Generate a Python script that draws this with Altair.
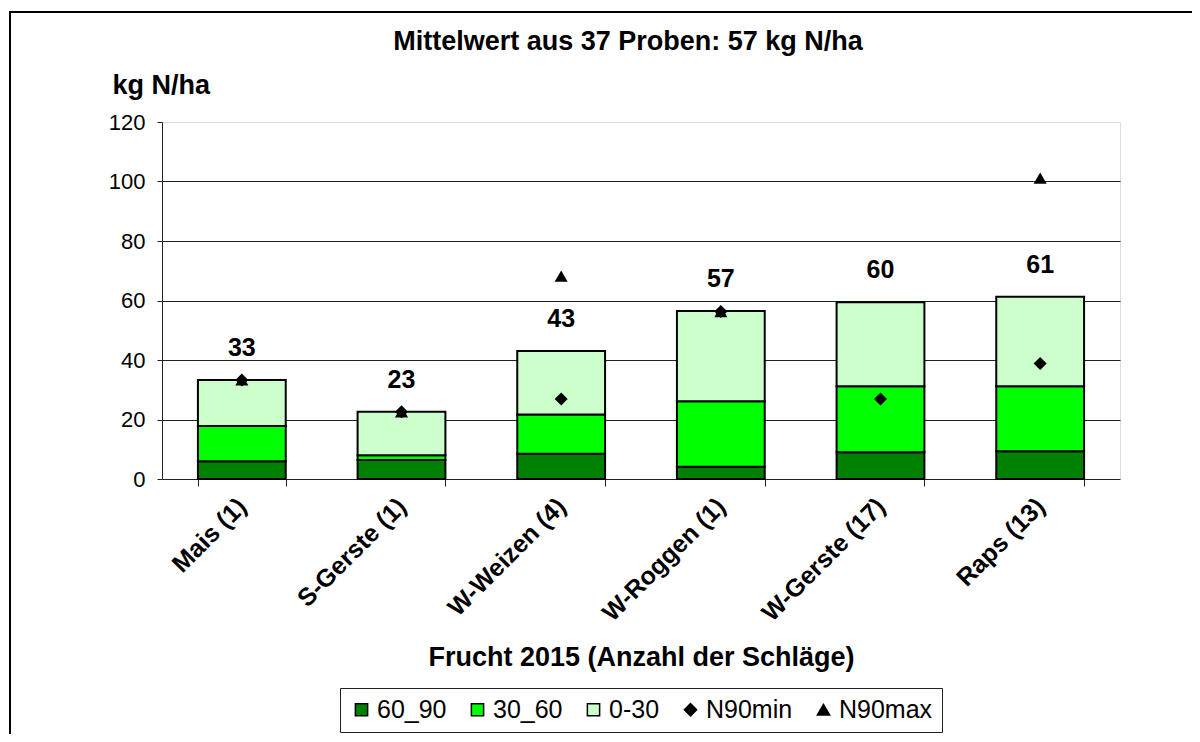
import altair as alt
import pandas as pd

categories = ["Mais (1)", "S-Gerste (1)", "W-Weizen (4)", "W-Roggen (1)", "W-Gerste (17)", "Raps (13)"]
s60_90 = [6.0, 6.4, 8.5, 4.1, 9.0, 9.3]
s30_60 = [11.8, 1.6, 13.2, 22.0, 22.2, 21.9]
s0_30 = [15.5, 14.6, 21.3, 30.4, 28.2, 30.1]
n90min = [33.3, 22.6, 26.9, 56.3, 26.9, 38.8]
n90max = [33.3, 22.6, 68.2, 56.3, None, 101.1]
total_labels = [33, 23, 43, 57, 60, 61]

series_names = ["60_90", "30_60", "0-30", "N90min", "N90max"]
series_colors = ["#008000", "#00ff00", "#ccffcc", "#000000", "#000000"]
series_shapes = ["square", "square", "square", "diamond", "triangle-up"]

FONT = "Liberation Sans"

rows = []
for i, c in enumerate(categories):
    for k, (name, vals) in enumerate([("60_90", s60_90), ("30_60", s30_60), ("0-30", s0_30)]):
        rows.append({"cat": c, "series": name, "value": vals[i], "ord": k})
bars_df = pd.DataFrame(rows)

prow = []
for i, c in enumerate(categories):
    for name, vals in [("N90min", n90min), ("N90max", n90max)]:
        if vals[i] is not None:
            prow.append({"cat": c, "series": name, "value": vals[i]})
pts_df = pd.DataFrame(prow)

lab_df = pd.DataFrame({
    "cat": categories,
    "total": [a + b + c for a, b, c in zip(s60_90, s30_60, s0_30)],
    "label": [str(v) for v in total_labels],
})

xenc = alt.X(
    "cat:N",
    sort=categories,
    scale=alt.Scale(paddingInner=0.45, paddingOuter=0.225),
    axis=alt.Axis(
        title="Frucht 2015 (Anzahl der Schläge)",
        titleFont=FONT, titleFontSize=27, titleFontWeight="bold", titleColor="black",
        titleY=178, titleBaseline="middle",
        labelAngle=-45, labelAlign="right", labelBaseline="middle",
        labelFont=FONT, labelFontSize=25, labelFontWeight="bold", labelColor="black",
        labelPadding=16,
        tickBand="extent", tickSize=7, tickColor="#222", domainColor="#222",
        grid=False,
    ),
)

yscale = alt.Scale(domain=[0, 120], nice=False)
yaxis = alt.Axis(
    title="kg N/ha",
    titleFont=FONT, titleFontSize=27, titleFontWeight="bold", titleColor="black",
    titleAngle=0, titleAlign="left", titleBaseline="middle",
    titleX=-50, titleY=-37,
    values=[0, 20, 40, 60, 80, 100, 120],
    labelFont=FONT, labelFontSize=22, labelColor="black", labelPadding=12,
    tickSize=5, tickColor="#222", domainColor="#222",
    grid=True, gridColor="#222", gridWidth=1,
    gridOpacity={"condition": {"test": "datum.value == 120 || datum.value == 0", "value": 0}, "value": 1},
)

frame = alt.Chart(pd.DataFrame({"a": [0]})).mark_rect(
    fill=None, stroke="black", strokeWidth=2, clip=False
).encode(
    x=alt.value(-152), x2=alt.value(1100), y=alt.value(-110), y2=alt.value(700)
)

bars = alt.Chart(bars_df).mark_bar(stroke="black", strokeWidth=2).encode(
    x=xenc,
    y=alt.Y("value:Q", stack="zero", scale=yscale, axis=yaxis),
    fill=alt.Fill("series:N", scale=alt.Scale(domain=series_names[:3], range=series_colors[:3]), legend=None),
    order=alt.Order("ord:Q"),
)

legend_cfg = alt.Legend(
    title=None, orient="none", legendX=178, legendY=566,
    direction="horizontal", columns=5, columnPadding=18,
    labelFont=FONT, labelFontSize=25, labelColor="black", labelOffset=3,
    symbolSize=150, symbolStrokeColor="black", symbolStrokeWidth=1.5,
    strokeColor="#222", padding=9, fillColor="white",
)

points = alt.Chart(pts_df).mark_point(filled=True, opacity=1, size=170).encode(
    x=alt.X("cat:N", sort=categories),
    y=alt.Y("value:Q", scale=yscale),
    color=alt.Color("series:N", scale=alt.Scale(domain=series_names, range=series_colors), legend=legend_cfg),
    shape=alt.Shape("series:N", scale=alt.Scale(domain=series_names, range=series_shapes), legend=legend_cfg),
)

labels = alt.Chart(lab_df).mark_text(
    font=FONT, fontSize=25, fontWeight="bold", color="black", dy=-32, baseline="middle"
).encode(
    x=alt.X("cat:N", sort=categories),
    y=alt.Y("total:Q", scale=yscale),
    text="label:N",
)

chart = alt.layer(frame, bars, points, labels).properties(
    width=958,
    height=357,
    padding={"left": 154, "top": 114, "right": 72, "bottom": 255},
    autosize=alt.AutoSizeParams(type="none"),
    title=alt.TitleParams(
        "Mittelwert aus 37 Proben: 57 kg N/ha",
        font=FONT, fontSize=27, fontWeight="bold", color="black",
        anchor="middle", dx=-13, dy=45, offset=0,
    ),
).configure_view(stroke=None).configure(background="white")

chart.save("out.html", embed_options={"renderer": "svg", "actions": False})
